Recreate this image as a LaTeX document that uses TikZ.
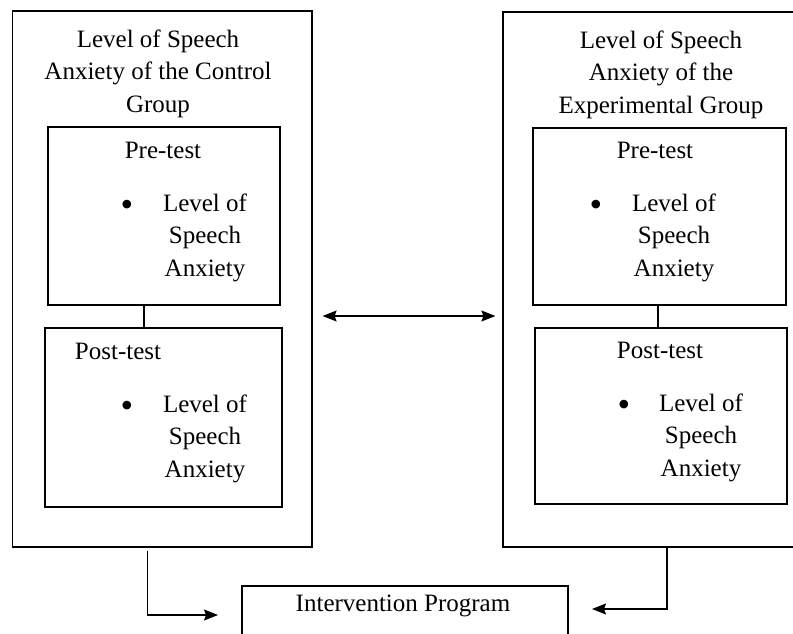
\documentclass[tikz,border=0pt]{standalone}
\usepackage{fontspec}
\setmainfont{Liberation Serif}
\usetikzlibrary{arrows.meta}

\newcommand{\boxfont}{\fontsize{25}{32.5}\selectfont}
\newcommand{\dotfont}{\fontsize{36}{36}\selectfont}

\begin{document}
\begin{tikzpicture}[
    x=1pt, y=-1pt,
    arr/.tip={Stealth[length=14pt, width=11pt, inset=2pt]},
    box/.style={rectangle, draw, line width=1.2pt, inner sep=0pt},
    txt/.style={inner sep=0pt, font=\boxfont, align=center, anchor=base},
    dot/.style={txt, font=\dotfont},
    link/.style={line width=1.2pt},
    edge/.style={-arr, line width=1.2pt},
    dbledge/.style={arr-arr, line width=1.2pt},
]
\useasboundingbox (0,0) rectangle (793,633);
\clip (0,0) rectangle (793,633);

% Group boxes (base of a text node = its last line)
\node[box, minimum width=299.5pt, minimum height=536pt] (ctrl) at (162.25,279) {};
\node[box, minimum width=315pt, minimum height=535pt] (expt) at (660.5,279.5) {};

\node[txt] (ctrl-t) at (158,112) {Level of Speech\\Anxiety of the Control\\Group};
\node[txt] (expt-t) at (661,113) {Level of Speech\\Anxiety of the\\Experimental Group};

% Pre-test and post-test boxes
\node[box, minimum width=232pt, minimum height=178pt] (cpre) at (164,216) {};
\node[box, minimum width=237pt, minimum height=179pt] (cpost) at (163.5,417.5) {};
\node[box, minimum width=253pt, minimum height=177pt] (epre) at (659.5,216.5) {};
\node[box, minimum width=252pt, minimum height=176pt] (epost) at (661,416) {};

\node[txt] (cpre-t) at (163,158) {Pre-test};
\node[dot] (cpre-b) at (127,216) {•};
\node[txt] (cpre-i) at (205,276) {Level of\\Speech\\Anxiety};

\node[txt] (cpost-t) at (118,359) {Post-test};
\node[dot] (cpost-b) at (127,417) {•};
\node[txt] (cpost-i) at (205,477) {Level of\\Speech\\Anxiety};

\node[txt] (epre-t) at (655,158) {Pre-test};
\node[dot] (epre-b) at (596,216) {•};
\node[txt] (epre-i) at (674,276) {Level of\\Speech\\Anxiety};

\node[txt] (epost-t) at (660,358) {Post-test};
\node[dot] (epost-b) at (624,416) {•};
\node[txt] (epost-i) at (701,476) {Level of\\Speech\\Anxiety};

% Intervention box
\node[box, minimum width=326pt, minimum height=80pt] (prog) at (405,626) {};
\node[txt] (prog-t) at (403,611) {Intervention Program};

% Connectors
\draw[link] ([xshift=-20pt]cpre.south) -- ([xshift=-20pt]cpre.south |- cpost.north);
\draw[link] ([xshift=-1.5pt]epre.south) -- ([xshift=-1.5pt]epre.south |- epost.north);

\coordinate (mid) at (408,316);
\draw[dbledge] ([xshift=10pt]ctrl.east |- mid) -- ([xshift=-7pt]expt.west |- mid);

\coordinate (prog-l) at (218,615);
\coordinate (prog-r) at (592,609);
\draw[edge] ([xshift=-15pt, yshift=-3pt]ctrl.south) |- (prog-l);
\draw[edge] ([xshift=6.5pt]expt.south) |- (prog-r);

\end{tikzpicture}
\end{document}
